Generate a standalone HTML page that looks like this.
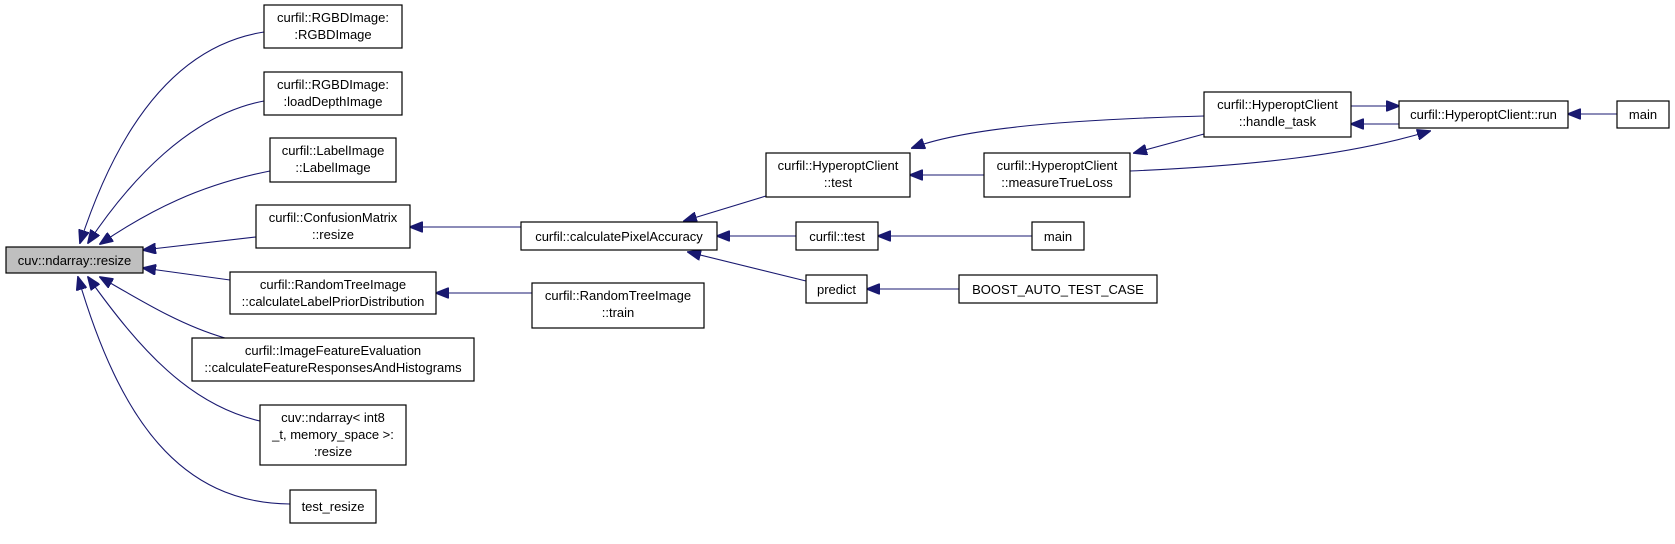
<!DOCTYPE html>
<html><head><meta charset="utf-8"><style>
html,body{margin:0;padding:0;background:#fff;}
svg{display:block;}
text{font-family:"Liberation Sans",sans-serif;font-size:13px;fill:#000;}
.b{fill:#fff;stroke:#000;stroke-width:1.2;}
.e{fill:none;stroke:#191970;stroke-width:1.1;}
</style></head><body>
<svg width="1675" height="544" viewBox="0 0 1675 544" xmlns="http://www.w3.org/2000/svg">
<defs><marker id="a" markerWidth="14" markerHeight="11" refX="13" refY="5.5" orient="auto" markerUnits="userSpaceOnUse"><path d="M0,0 L14,5.5 L0,11 Z" fill="#191970" stroke="#191970"/></marker></defs>
<g class="e">
<path d="M264,32 C180,45 120,120 80,243" marker-end="url(#a)"/>
<path d="M264,101 C190,115 130,180 88,243" marker-end="url(#a)"/>
<path d="M270,171 C200,185 150,210 100,244" marker-end="url(#a)"/>
<path d="M256,237 L143,250" marker-end="url(#a)"/>
<path d="M230,280 L143,268" marker-end="url(#a)"/>
<path d="M225,338 C180,325 140,300 100,277" marker-end="url(#a)"/>
<path d="M260,421 C190,405 140,350 88,277" marker-end="url(#a)"/>
<path d="M290,504 C180,503 120,420 78,277" marker-end="url(#a)"/>
<path d="M521,227 L410,227" marker-end="url(#a)"/>
<path d="M532,293 L436,293" marker-end="url(#a)"/>
<path d="M766,196 L684,221" marker-end="url(#a)"/>
<path d="M796,236 L717,236" marker-end="url(#a)"/>
<path d="M806,281 L688,252" marker-end="url(#a)"/>
<path d="M984,175 L910,175" marker-end="url(#a)"/>
<path d="M1032,236 L878,236" marker-end="url(#a)"/>
<path d="M959,289 L867,289" marker-end="url(#a)"/>
<path d="M1204,116 C1050,120 960,130 912,148" marker-end="url(#a)"/>
<path d="M1204,134 L1134,153" marker-end="url(#a)"/>
<path d="M1351,106 L1399,106" marker-end="url(#a)"/>
<path d="M1399,124 L1351,124" marker-end="url(#a)"/>
<path d="M1130,171 C1250,166 1350,155 1430,131" marker-end="url(#a)"/>
<path d="M1617,114 L1568,114" marker-end="url(#a)"/>
</g>
<rect x="6" y="247" width="137" height="26" fill="#bfbfbf" stroke="#000" stroke-width="1.2"/>
<text x="74.5" y="265" text-anchor="middle">cuv::ndarray::resize</text>
<g text-anchor="middle">
<rect class="b" x="264" y="5" width="138" height="43"/><text x="333" y="22">curfil::RGBDImage:</text><text x="333" y="39">:RGBDImage</text>
<rect class="b" x="264" y="72" width="138" height="43"/><text x="333" y="89">curfil::RGBDImage:</text><text x="333" y="106">:loadDepthImage</text>
<rect class="b" x="270" y="138" width="126" height="44"/><text x="333" y="155">curfil::LabelImage</text><text x="333" y="172">::LabelImage</text>
<rect class="b" x="256" y="205" width="154" height="43"/><text x="333" y="222">curfil::ConfusionMatrix</text><text x="333" y="239">::resize</text>
<rect class="b" x="230" y="272" width="206" height="42"/><text x="333" y="289">curfil::RandomTreeImage</text><text x="333" y="306">::calculateLabelPriorDistribution</text>
<rect class="b" x="192" y="338" width="282" height="43"/><text x="333" y="355">curfil::ImageFeatureEvaluation</text><text x="333" y="372">::calculateFeatureResponsesAndHistograms</text>
<rect class="b" x="260" y="405" width="146" height="60"/><text x="333" y="422">cuv::ndarray&lt; int8</text><text x="333" y="439">_t, memory_space &gt;:</text><text x="333" y="456">:resize</text>
<rect class="b" x="290" y="490" width="86" height="33"/><text x="333" y="511">test_resize</text>
<rect class="b" x="521" y="222" width="196" height="28"/><text x="619" y="241">curfil::calculatePixelAccuracy</text>
<rect class="b" x="532" y="283" width="172" height="45"/><text x="618" y="300">curfil::RandomTreeImage</text><text x="618" y="317">::train</text>
<rect class="b" x="766" y="153" width="144" height="44"/><text x="838" y="170">curfil::HyperoptClient</text><text x="838" y="187">::test</text>
<rect class="b" x="984" y="153" width="146" height="44"/><text x="1057" y="170">curfil::HyperoptClient</text><text x="1057" y="187">::measureTrueLoss</text>
<rect class="b" x="796" y="222" width="82" height="28"/><text x="837" y="241">curfil::test</text>
<rect class="b" x="1032" y="222" width="52" height="28"/><text x="1058" y="241">main</text>
<rect class="b" x="806" y="275" width="61" height="28"/><text x="836.5" y="294">predict</text>
<rect class="b" x="959" y="275" width="198" height="28"/><text x="1058" y="294">BOOST_AUTO_TEST_CASE</text>
<rect class="b" x="1204" y="92" width="147" height="45"/><text x="1277.5" y="109">curfil::HyperoptClient</text><text x="1277.5" y="126">::handle_task</text>
<rect class="b" x="1399" y="101" width="169" height="27"/><text x="1483.5" y="119">curfil::HyperoptClient::run</text>
<rect class="b" x="1617" y="101" width="52" height="27"/><text x="1643" y="119">main</text>
</g>
</svg>
</body></html>
